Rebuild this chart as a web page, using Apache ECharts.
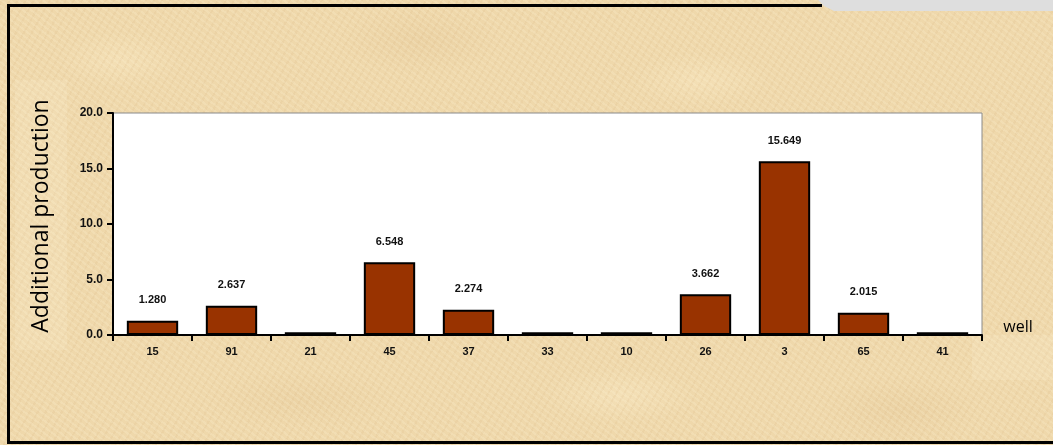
<!DOCTYPE html>
<html>
<head>
<meta charset="utf-8">
<script src="https://cdn.jsdelivr.net/npm/echarts@6/dist/echarts.min.js"></script>
<style>
  html, body { margin: 0; padding: 0; }
  body {
    width: 1053px; height: 445px; overflow: hidden;
    background-color: #efd8ab;
    background-image:
      repeating-linear-gradient(37deg, rgba(255,245,215,0.18) 0px, rgba(255,245,215,0.18) 2px, rgba(0,0,0,0) 2px, rgba(0,0,0,0) 5px),
      repeating-linear-gradient(-61deg, rgba(215,180,130,0.15) 0px, rgba(215,180,130,0.15) 2px, rgba(0,0,0,0) 2px, rgba(0,0,0,0) 7px),
      radial-gradient(ellipse 90px 40px at 120px 60px, rgba(255,240,205,0.3), rgba(255,240,205,0) 70%),
      radial-gradient(ellipse 120px 50px at 420px 40px, rgba(222,190,140,0.25), rgba(222,190,140,0) 70%),
      radial-gradient(ellipse 100px 40px at 700px 80px, rgba(255,240,205,0.3), rgba(255,240,205,0) 70%),
      radial-gradient(ellipse 140px 45px at 300px 400px, rgba(225,195,145,0.25), rgba(225,195,145,0) 70%),
      radial-gradient(ellipse 110px 40px at 620px 395px, rgba(255,242,210,0.3), rgba(255,242,210,0) 70%),
      radial-gradient(ellipse 120px 50px at 900px 410px, rgba(222,190,140,0.25), rgba(222,190,140,0) 70%);
  }
  #chart { width: 1053px; height: 445px; }
</style>
</head>
<body>
<div id="chart"></div>
<script>
// 井号与增产量
const wells = ["15", "91", "21", "45", "37", "33", "10", "26", "3", "65", "41"];
const production = [1.280, 2.637, 0.25, 6.548, 2.274, 0.25, 0.25, 3.662, 15.649, 2.015, 0.25];
const labelTexts = ["1.280", "2.637", "", "6.548", "2.274", "", "", "3.662", "15.649", "2.015", ""];
const yTicks = [0, 5, 10, 15, 20];

const chart = echarts.init(document.getElementById("chart"));

const option = {
  animation: false,
  backgroundColor: "transparent",
  grid: {
    left: 113,
    top: 113,
    right: 71,
    bottom: 110,
    show: true,
    backgroundColor: "#ffffff",
    borderColor: "#8a8a8a",
    borderWidth: 1
  },
  xAxis: {
    type: "category",
    data: wells,
    axisLine: { lineStyle: { color: "#000", width: 2 } },
    axisTick: { show: true, length: 6, lineStyle: { color: "#000", width: 2 } },
    axisLabel: {
      margin: 11,
      color: "#111",
      fontFamily: "Liberation Sans",
      fontWeight: "bold",
      fontSize: 11
    }
  },
  yAxis: {
    type: "value",
    min: yTicks[0],
    max: yTicks[yTicks.length - 1],
    interval: 5,
    axisLine: { show: true, lineStyle: { color: "#000", width: 2 } },
    axisTick: { show: true, length: 6, lineStyle: { color: "#000", width: 2 } },
    splitLine: { show: false },
    axisLabel: {
      margin: 10,
      color: "#111",
      fontFamily: "Liberation Sans",
      fontWeight: "bold",
      fontSize: 12,
      formatter: v => v.toFixed(1)
    }
  },
  graphic: [
    // 边框
    { type: "rect", shape: { x: 7, y: 4, width: 3, height: 440 }, style: { fill: "#000" } },
    { type: "rect", shape: { x: 7, y: 4, width: 815, height: 3 }, style: { fill: "#000" } },
    { type: "rect", shape: { x: 7, y: 441, width: 1046, height: 3 }, style: { fill: "#000" } },
    {
      type: "polygon",
      shape: { points: [[818, 0], [1053, 0], [1053, 11], [834, 11], [824, 6]] },
      style: { fill: "#dedede" }
    },
    // 标题底块
    { type: "rect", shape: { x: 15, y: 80, width: 52, height: 270 }, style: { fill: "rgba(255,245,220,0.15)" } },
    { type: "rect", shape: { x: 972, y: 335, width: 81, height: 45 }, style: { fill: "rgba(255,245,220,0.15)" } },
    {
      type: "text",
      x: 41, y: 216, rotation: Math.PI / 2,
      style: {
        text: "Additional production",
        font: "23px 'Open Sans'",
        fill: "#000",
        align: "center",
        verticalAlign: "middle"
      }
    },
    {
      type: "text",
      x: 1018, y: 327,
      style: {
        text: "well",
        font: "16px 'Open Sans'",
        fill: "#000",
        align: "center",
        verticalAlign: "middle"
      }
    }
  ],
  series: [
    {
      type: "bar",
      data: production,
      barWidth: "65%",
      itemStyle: { color: "#993300", borderColor: "#000", borderWidth: 2 },
      label: {
        show: true,
        position: "top",
        distance: 15,
        color: "#111",
        fontFamily: "Liberation Sans",
        fontWeight: "bold",
        fontSize: 11,
        formatter: p => labelTexts[p.dataIndex]
      }
    }
  ]
};

chart.setOption(option);
</script>
</body>
</html>
